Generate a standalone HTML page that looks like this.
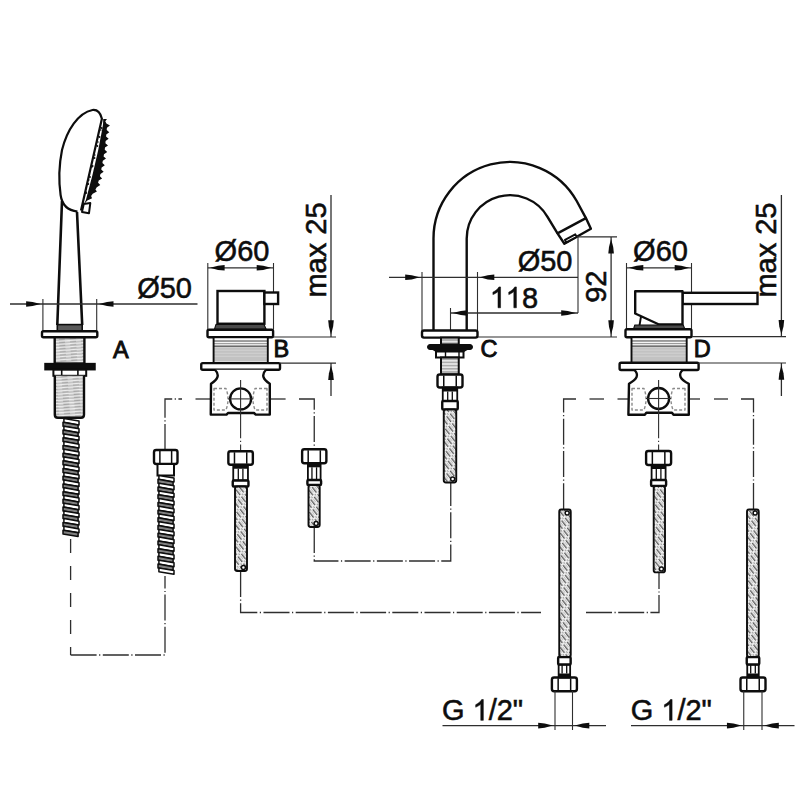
<!DOCTYPE html>
<html><head><meta charset="utf-8"><style>
html,body{margin:0;padding:0;background:#fff;}
svg{display:block;font-family:"Liberation Sans", sans-serif;}
text{fill:#0d0d0d;}
</style></head><body>
<svg width="800" height="800" viewBox="0 0 800 800" font-family="Liberation Sans, sans-serif" fill="#0d0d0d">
<defs>
<pattern id="braid" width="9" height="4.4" patternUnits="userSpaceOnUse" patternTransform="rotate(52)">
<rect width="9" height="4.4" fill="#efefef"/><line x1="0" y1="1.1" x2="7" y2="1.1" stroke="#5e5e5e" stroke-width="1.3"/><line x1="7" y1="3.3" x2="9" y2="3.3" stroke="#8a8a8a" stroke-width="1.0"/><line x1="1" y1="3.2" x2="5" y2="3.2" stroke="#b4b4b4" stroke-width="0.8"/>
</pattern>
<pattern id="thr" width="11" height="3.1" patternUnits="userSpaceOnUse" patternTransform="rotate(-4)">
<rect width="11" height="3.1" fill="#c4c4c4"/><line x1="0" y1="0.6" x2="11" y2="0.6" stroke="#f2f2f2" stroke-width="1.1"/><line x1="2" y1="1.7" x2="8" y2="1.7" stroke="#8c8c8c" stroke-width="0.7"/>
</pattern>
<pattern id="thrh" width="10" height="3.2" patternUnits="userSpaceOnUse">
<rect width="10" height="3.2" fill="#e6e6e6"/><line x1="0" y1="0.8" x2="10" y2="0.8" stroke="#8a8a8a" stroke-width="1.0"/>
</pattern>
</defs>
<rect width="800" height="800" fill="#fff"/>
<polyline points="70.6,539 70.6,655" fill="none" stroke="#2e2e2e" stroke-width="1.3" stroke-dasharray="14 13"/>
<polyline points="70.6,655 165,655 165,576" fill="none" stroke="#2e2e2e" stroke-width="1.3" stroke-dasharray="26 2.5 1.2 2.5"/>
<polyline points="165,450 165,399 182,399" fill="none" stroke="#2e2e2e" stroke-width="1.3" stroke-dasharray="26 2.5 1.2 2.5"/>
<line x1="195.5" y1="399" x2="211" y2="399" stroke="#2e2e2e" stroke-width="1.3" />
<line x1="270" y1="399" x2="285.6" y2="399" stroke="#2e2e2e" stroke-width="1.3" />
<polyline points="299,399 314.25,399 314.25,449" fill="none" stroke="#2e2e2e" stroke-width="1.3" stroke-dasharray="26 2.5 1.2 2.5"/>
<line x1="240.6" y1="380" x2="240.6" y2="451" stroke="#2e2e2e" stroke-width="1.1" stroke-dasharray="26 2.5 1.2 2.5"/>
<polyline points="240.6,571 240.6,612.5 541,612.5" fill="none" stroke="#2e2e2e" stroke-width="1.3" stroke-dasharray="26 2.5 1.2 2.5"/>
<polyline points="586,612.5 659,612.5 659,572" fill="none" stroke="#2e2e2e" stroke-width="1.3" stroke-dasharray="26 2.5 1.2 2.5"/>
<polyline points="314.25,527 314.25,561 450.75,561 450.75,482" fill="none" stroke="#2e2e2e" stroke-width="1.3" stroke-dasharray="26 2.5 1.2 2.5"/>
<polyline points="576,399 563.6,399 563.6,509" fill="none" stroke="#2e2e2e" stroke-width="1.3" stroke-dasharray="26 2.5 1.2 2.5"/>
<line x1="589.5" y1="399" x2="604" y2="399" stroke="#2e2e2e" stroke-width="1.3" />
<line x1="617.5" y1="399" x2="629" y2="399" stroke="#2e2e2e" stroke-width="1.3" />
<line x1="688.5" y1="399" x2="700" y2="399" stroke="#2e2e2e" stroke-width="1.3" />
<line x1="714" y1="399" x2="728" y2="399" stroke="#2e2e2e" stroke-width="1.3" />
<polyline points="741,399 753.5,399 753.5,509" fill="none" stroke="#2e2e2e" stroke-width="1.3" stroke-dasharray="26 2.5 1.2 2.5"/>
<line x1="658.6" y1="380" x2="658.6" y2="451" stroke="#2e2e2e" stroke-width="1.1" stroke-dasharray="26 2.5 1.2 2.5"/>
<path d="M 62 201 L 57.3 325 M 77 212 L 82.2 325" fill="none" stroke="#0d0d0d" stroke-width="2.6" stroke-linejoin="round" />
<path d="M 77.5 211.5 C 68 210.5, 62 205, 60.6 195 C 58.5 180, 59 165, 62 150 C 67 130, 78 113, 92.5 110 C 97 109.5, 100.5 113, 101.9 118.75 L 81 210.5" fill="none" stroke="#0d0d0d" stroke-width="2.2" stroke-linejoin="round" />
<polygon points="106.98,119.00 105.29,121.20 106.40,123.40 109.95,125.60 106.93,127.80 106.71,130.00 109.30,132.20 106.28,134.40 106.06,136.60 108.64,138.80 105.63,141.00 105.41,143.20 107.99,145.40 104.97,147.60 104.76,149.80 107.18,152.00 103.99,154.20 103.59,156.40 106.00,158.60 102.81,160.80 102.41,163.00 104.82,165.20 101.63,167.40 101.23,169.60 103.64,171.80 100.45,174.00 99.93,176.20 102.11,178.40 98.70,180.60 98.08,182.80 100.26,185.00 96.78,187.20 95.43,189.40 96.88,191.60 92.73,193.80 91.13,196.00 92.03,198.20 87.33,200.40 85.43,202.60 85.95,204.80 83.63,204.80 84.67,202.60 85.71,200.40 86.37,198.20 86.95,196.00 87.53,193.80 88.11,191.60 88.68,189.40 89.26,187.20 89.84,185.00 90.42,182.80 91.00,180.60 91.57,178.40 92.15,176.20 92.70,174.00 93.21,171.80 93.71,169.60 94.22,167.40 94.73,165.20 95.24,163.00 95.74,160.80 96.25,158.60 96.76,156.40 97.27,154.20 97.78,152.00 98.28,149.80 98.70,147.60 99.12,145.40 99.53,143.20 99.95,141.00 100.37,138.80 100.79,136.60 101.21,134.40 101.63,132.20 102.05,130.00 102.47,127.80 102.89,125.60 103.07,123.40 103.15,121.20 103.24,119.00" fill="#0d0d0d" stroke="none" stroke-width="1.0" stroke-linejoin="round" />
<circle cx="101.69" cy="128" r="0.9" fill="#0d0d0d"/>
<circle cx="99.54" cy="137" r="0.9" fill="#0d0d0d"/>
<circle cx="97.39" cy="146" r="0.9" fill="#0d0d0d"/>
<circle cx="94.53" cy="158" r="0.9" fill="#0d0d0d"/>
<circle cx="92.62" cy="166" r="0.9" fill="#0d0d0d"/>
<circle cx="89.99" cy="177" r="0.9" fill="#0d0d0d"/>
<circle cx="88.32" cy="184" r="0.9" fill="#0d0d0d"/>
<circle cx="86.17" cy="193" r="0.9" fill="#0d0d0d"/>
<circle cx="100.81" cy="130" r="0.8" fill="#0d0d0d"/>
<circle cx="97.95" cy="142" r="0.8" fill="#0d0d0d"/>
<circle cx="94.84" cy="155" r="0.8" fill="#0d0d0d"/>
<circle cx="91.98" cy="167" r="0.8" fill="#0d0d0d"/>
<circle cx="88.87" cy="180" r="0.8" fill="#0d0d0d"/>
<circle cx="86.01" cy="192" r="0.8" fill="#0d0d0d"/>
<polygon points="82.00,211.90 83.75,204.00 90.30,203.10 89.00,213.20" fill="#fff" stroke="#0d0d0d" stroke-width="2.0" stroke-linejoin="round" />
<rect x="57.30" y="324.60" width="24.90" height="6.40" rx="0" fill="#5a5a5a" stroke="#0d0d0d" stroke-width="1.6" />
<line x1="10" y1="304" x2="197.5" y2="304" stroke="#2e2e2e" stroke-width="1.3" />
<line x1="42.9" y1="299" x2="42.9" y2="331" stroke="#2e2e2e" stroke-width="1.1" />
<line x1="96.7" y1="299" x2="96.7" y2="331" stroke="#2e2e2e" stroke-width="1.1" />
<polygon points="40.60,304.00 32.62,301.90 26.10,301.20 26.10,306.80 32.62,306.10" fill="#0d0d0d" stroke="none" stroke-width="1.0" stroke-linejoin="round" />
<polygon points="99.00,304.00 106.97,301.90 113.50,301.20 113.50,306.80 106.97,306.10" fill="#0d0d0d" stroke="none" stroke-width="1.0" stroke-linejoin="round" />
<g transform="translate(137.17,297.70)"><text x="0.00" y="0" font-size="29" stroke="#0d0d0d" stroke-width="0.55">Ø</text><text x="22.56" y="0" font-size="29" stroke="#0d0d0d" stroke-width="0.55">5</text><text x="38.69" y="0" font-size="29" stroke="#0d0d0d" stroke-width="0.55">0</text></g>
<rect x="42.00" y="331.20" width="55.30" height="6.10" rx="1.5" fill="#fff" stroke="#0d0d0d" stroke-width="2.4" />
<rect x="54.70" y="337.30" width="29.70" height="26.30" rx="0" fill="url(#thr)" stroke="#0d0d0d" stroke-width="2.4" />
<rect x="45.00" y="363.60" width="50.00" height="6.10" rx="0" fill="#0d0d0d" stroke="#0d0d0d" stroke-width="1.5" />
<rect x="53.40" y="369.70" width="32.80" height="6.10" rx="0" fill="#fff" stroke="#0d0d0d" stroke-width="2" />
<line x1="61.7" y1="369.7" x2="61.7" y2="375.8" stroke="#0d0d0d" stroke-width="1.6" />
<line x1="77.9" y1="369.7" x2="77.9" y2="375.8" stroke="#0d0d0d" stroke-width="1.6" />
<path d="M 54.8 375.8 L 54.8 414.8 Q 54.8 417.8 57.8 417.8 L 81.0 417.8 Q 84.0 417.8 84.0 414.8 L 84.0 375.8" fill="url(#thr)" stroke="#0d0d0d" stroke-width="2.4" stroke-linejoin="round" />
<polygon points="63.90,418.50 79.00,421.10 79.00,424.95 63.90,422.35" fill="#ffffff" stroke="#0d0d0d" stroke-width="1.5" stroke-linejoin="round" />
<polygon points="63.00,422.35 78.10,424.95 78.10,428.80 63.00,426.20" fill="#808080" stroke="#0d0d0d" stroke-width="1.5" stroke-linejoin="round" />
<polygon points="63.90,426.20 79.00,428.80 79.00,432.65 63.90,430.05" fill="#ffffff" stroke="#0d0d0d" stroke-width="1.5" stroke-linejoin="round" />
<polygon points="63.00,430.05 78.10,432.65 78.10,436.50 63.00,433.90" fill="#808080" stroke="#0d0d0d" stroke-width="1.5" stroke-linejoin="round" />
<polygon points="63.90,433.90 79.00,436.50 79.00,440.35 63.90,437.75" fill="#ffffff" stroke="#0d0d0d" stroke-width="1.5" stroke-linejoin="round" />
<polygon points="63.00,437.75 78.10,440.35 78.10,444.20 63.00,441.60" fill="#808080" stroke="#0d0d0d" stroke-width="1.5" stroke-linejoin="round" />
<polygon points="63.90,441.60 79.00,444.20 79.00,448.05 63.90,445.45" fill="#ffffff" stroke="#0d0d0d" stroke-width="1.5" stroke-linejoin="round" />
<polygon points="63.00,445.45 78.10,448.05 78.10,451.90 63.00,449.30" fill="#808080" stroke="#0d0d0d" stroke-width="1.5" stroke-linejoin="round" />
<polygon points="63.90,449.30 79.00,451.90 79.00,455.75 63.90,453.15" fill="#ffffff" stroke="#0d0d0d" stroke-width="1.5" stroke-linejoin="round" />
<polygon points="63.00,453.15 78.10,455.75 78.10,459.60 63.00,457.00" fill="#808080" stroke="#0d0d0d" stroke-width="1.5" stroke-linejoin="round" />
<polygon points="63.90,457.00 79.00,459.60 79.00,463.45 63.90,460.85" fill="#ffffff" stroke="#0d0d0d" stroke-width="1.5" stroke-linejoin="round" />
<polygon points="63.00,460.85 78.10,463.45 78.10,467.30 63.00,464.70" fill="#808080" stroke="#0d0d0d" stroke-width="1.5" stroke-linejoin="round" />
<polygon points="63.90,464.70 79.00,467.30 79.00,471.15 63.90,468.55" fill="#ffffff" stroke="#0d0d0d" stroke-width="1.5" stroke-linejoin="round" />
<polygon points="63.00,468.55 78.10,471.15 78.10,475.00 63.00,472.40" fill="#808080" stroke="#0d0d0d" stroke-width="1.5" stroke-linejoin="round" />
<polygon points="63.90,472.40 79.00,475.00 79.00,478.85 63.90,476.25" fill="#ffffff" stroke="#0d0d0d" stroke-width="1.5" stroke-linejoin="round" />
<polygon points="63.00,476.25 78.10,478.85 78.10,482.70 63.00,480.10" fill="#808080" stroke="#0d0d0d" stroke-width="1.5" stroke-linejoin="round" />
<polygon points="63.90,480.10 79.00,482.70 79.00,486.55 63.90,483.95" fill="#ffffff" stroke="#0d0d0d" stroke-width="1.5" stroke-linejoin="round" />
<polygon points="63.00,483.95 78.10,486.55 78.10,490.40 63.00,487.80" fill="#808080" stroke="#0d0d0d" stroke-width="1.5" stroke-linejoin="round" />
<polygon points="63.90,487.80 79.00,490.40 79.00,494.25 63.90,491.65" fill="#ffffff" stroke="#0d0d0d" stroke-width="1.5" stroke-linejoin="round" />
<polygon points="63.00,491.65 78.10,494.25 78.10,498.10 63.00,495.50" fill="#808080" stroke="#0d0d0d" stroke-width="1.5" stroke-linejoin="round" />
<polygon points="63.90,495.50 79.00,498.10 79.00,501.95 63.90,499.35" fill="#ffffff" stroke="#0d0d0d" stroke-width="1.5" stroke-linejoin="round" />
<polygon points="63.00,499.35 78.10,501.95 78.10,505.80 63.00,503.20" fill="#808080" stroke="#0d0d0d" stroke-width="1.5" stroke-linejoin="round" />
<polygon points="63.90,503.20 79.00,505.80 79.00,509.65 63.90,507.05" fill="#ffffff" stroke="#0d0d0d" stroke-width="1.5" stroke-linejoin="round" />
<polygon points="63.00,507.05 78.10,509.65 78.10,513.50 63.00,510.90" fill="#808080" stroke="#0d0d0d" stroke-width="1.5" stroke-linejoin="round" />
<polygon points="63.90,510.90 79.00,513.50 79.00,517.35 63.90,514.75" fill="#ffffff" stroke="#0d0d0d" stroke-width="1.5" stroke-linejoin="round" />
<polygon points="63.00,514.75 78.10,517.35 78.10,521.20 63.00,518.60" fill="#808080" stroke="#0d0d0d" stroke-width="1.5" stroke-linejoin="round" />
<polygon points="63.90,518.60 79.00,521.20 79.00,525.05 63.90,522.45" fill="#ffffff" stroke="#0d0d0d" stroke-width="1.5" stroke-linejoin="round" />
<polygon points="63.00,522.45 78.10,525.05 78.10,528.90 63.00,526.30" fill="#808080" stroke="#0d0d0d" stroke-width="1.5" stroke-linejoin="round" />
<polygon points="63.90,526.30 79.00,528.90 79.00,532.75 63.90,530.15" fill="#ffffff" stroke="#0d0d0d" stroke-width="1.5" stroke-linejoin="round" />
<polygon points="63.00,530.15 78.10,532.75 78.10,536.60 63.00,534.00" fill="#808080" stroke="#0d0d0d" stroke-width="1.5" stroke-linejoin="round" />
<g transform="translate(113.00,358.10)"><text x="0.00" y="0" font-size="23.5" stroke="#0d0d0d" stroke-width="0.9">A</text></g>
<rect x="154.00" y="450.00" width="23.50" height="14.00" rx="2.2" fill="#fff" stroke="#0d0d0d" stroke-width="2.4" />
<line x1="159.875" y1="451" x2="159.875" y2="463" stroke="#0d0d0d" stroke-width="1.5" />
<line x1="171.625" y1="451" x2="171.625" y2="463" stroke="#0d0d0d" stroke-width="1.5" />
<rect x="157.50" y="464.00" width="16.50" height="11.50" rx="0" fill="#fff" stroke="#0d0d0d" stroke-width="2" />
<polygon points="158.90,475.50 174.00,478.10 174.00,481.95 158.90,479.35" fill="#ffffff" stroke="#0d0d0d" stroke-width="1.5" stroke-linejoin="round" />
<polygon points="158.00,479.35 173.10,481.95 173.10,485.80 158.00,483.20" fill="#808080" stroke="#0d0d0d" stroke-width="1.5" stroke-linejoin="round" />
<polygon points="158.90,483.20 174.00,485.80 174.00,489.65 158.90,487.05" fill="#ffffff" stroke="#0d0d0d" stroke-width="1.5" stroke-linejoin="round" />
<polygon points="158.00,487.05 173.10,489.65 173.10,493.50 158.00,490.90" fill="#808080" stroke="#0d0d0d" stroke-width="1.5" stroke-linejoin="round" />
<polygon points="158.90,490.90 174.00,493.50 174.00,497.35 158.90,494.75" fill="#ffffff" stroke="#0d0d0d" stroke-width="1.5" stroke-linejoin="round" />
<polygon points="158.00,494.75 173.10,497.35 173.10,501.20 158.00,498.60" fill="#808080" stroke="#0d0d0d" stroke-width="1.5" stroke-linejoin="round" />
<polygon points="158.90,498.60 174.00,501.20 174.00,505.05 158.90,502.45" fill="#ffffff" stroke="#0d0d0d" stroke-width="1.5" stroke-linejoin="round" />
<polygon points="158.00,502.45 173.10,505.05 173.10,508.90 158.00,506.30" fill="#808080" stroke="#0d0d0d" stroke-width="1.5" stroke-linejoin="round" />
<polygon points="158.90,506.30 174.00,508.90 174.00,512.75 158.90,510.15" fill="#ffffff" stroke="#0d0d0d" stroke-width="1.5" stroke-linejoin="round" />
<polygon points="158.00,510.15 173.10,512.75 173.10,516.60 158.00,514.00" fill="#808080" stroke="#0d0d0d" stroke-width="1.5" stroke-linejoin="round" />
<polygon points="158.90,514.00 174.00,516.60 174.00,520.45 158.90,517.85" fill="#ffffff" stroke="#0d0d0d" stroke-width="1.5" stroke-linejoin="round" />
<polygon points="158.00,517.85 173.10,520.45 173.10,524.30 158.00,521.70" fill="#808080" stroke="#0d0d0d" stroke-width="1.5" stroke-linejoin="round" />
<polygon points="158.90,521.70 174.00,524.30 174.00,528.15 158.90,525.55" fill="#ffffff" stroke="#0d0d0d" stroke-width="1.5" stroke-linejoin="round" />
<polygon points="158.00,525.55 173.10,528.15 173.10,532.00 158.00,529.40" fill="#808080" stroke="#0d0d0d" stroke-width="1.5" stroke-linejoin="round" />
<polygon points="158.90,529.40 174.00,532.00 174.00,535.85 158.90,533.25" fill="#ffffff" stroke="#0d0d0d" stroke-width="1.5" stroke-linejoin="round" />
<polygon points="158.00,533.25 173.10,535.85 173.10,539.70 158.00,537.10" fill="#808080" stroke="#0d0d0d" stroke-width="1.5" stroke-linejoin="round" />
<polygon points="158.90,537.10 174.00,539.70 174.00,543.55 158.90,540.95" fill="#ffffff" stroke="#0d0d0d" stroke-width="1.5" stroke-linejoin="round" />
<polygon points="158.00,540.95 173.10,543.55 173.10,547.40 158.00,544.80" fill="#808080" stroke="#0d0d0d" stroke-width="1.5" stroke-linejoin="round" />
<polygon points="158.90,544.80 174.00,547.40 174.00,551.25 158.90,548.65" fill="#ffffff" stroke="#0d0d0d" stroke-width="1.5" stroke-linejoin="round" />
<polygon points="158.00,548.65 173.10,551.25 173.10,555.10 158.00,552.50" fill="#808080" stroke="#0d0d0d" stroke-width="1.5" stroke-linejoin="round" />
<polygon points="158.90,552.50 174.00,555.10 174.00,558.95 158.90,556.35" fill="#ffffff" stroke="#0d0d0d" stroke-width="1.5" stroke-linejoin="round" />
<polygon points="158.00,556.35 173.10,558.95 173.10,562.80 158.00,560.20" fill="#808080" stroke="#0d0d0d" stroke-width="1.5" stroke-linejoin="round" />
<polygon points="158.90,560.20 174.00,562.80 174.00,566.65 158.90,564.05" fill="#ffffff" stroke="#0d0d0d" stroke-width="1.5" stroke-linejoin="round" />
<polygon points="158.00,564.05 173.10,566.65 173.10,570.50 158.00,567.90" fill="#808080" stroke="#0d0d0d" stroke-width="1.5" stroke-linejoin="round" />
<polygon points="158.90,567.90 174.00,570.50 174.00,574.35 158.90,571.75" fill="#ffffff" stroke="#0d0d0d" stroke-width="1.5" stroke-linejoin="round" />
<g transform="translate(214.60,261.25)"><text x="0.00" y="0" font-size="29" stroke="#0d0d0d" stroke-width="0.55">Ø</text><text x="22.56" y="0" font-size="29" stroke="#0d0d0d" stroke-width="0.55">6</text><text x="38.69" y="0" font-size="29" stroke="#0d0d0d" stroke-width="0.55">0</text></g>
<line x1="207.8" y1="267.8" x2="273.5" y2="267.8" stroke="#2e2e2e" stroke-width="1.3" />
<polygon points="210.10,267.80 218.08,265.70 224.60,265.00 224.60,270.60 218.08,269.90" fill="#0d0d0d" stroke="none" stroke-width="1.0" stroke-linejoin="round" />
<polygon points="271.20,267.80 263.22,265.70 256.70,265.00 256.70,270.60 263.22,269.90" fill="#0d0d0d" stroke="none" stroke-width="1.0" stroke-linejoin="round" />
<line x1="207.8" y1="263" x2="207.8" y2="329.5" stroke="#2e2e2e" stroke-width="1.1" />
<line x1="273.5" y1="263" x2="273.5" y2="329.5" stroke="#2e2e2e" stroke-width="1.1" />
<rect x="217.50" y="291.00" width="46.90" height="32.75" rx="0" fill="#fff" stroke="#0d0d0d" stroke-width="2.4" />
<rect x="264.40" y="292.50" width="13.70" height="11.50" rx="0" fill="#fff" stroke="#0d0d0d" stroke-width="2.4" />
<polygon points="216.00,324.40 264.00,324.40 266.30,329.40 214.40,329.40" fill="#4a4a4a" stroke="#0d0d0d" stroke-width="1.1" stroke-linejoin="round" />
<rect x="207.50" y="329.75" width="65.60" height="7.50" rx="1.5" fill="#fff" stroke="#0d0d0d" stroke-width="2.4" />
<rect x="213.60" y="337.25" width="54.20" height="25.85" rx="0" fill="#c2c2c2" stroke="none" stroke-width="0" />
<line x1="213.6" y1="344.25" x2="267.8" y2="344.25" stroke="#d4d4d4" stroke-width="0.9" />
<line x1="213.6" y1="347.25" x2="267.8" y2="347.25" stroke="#d4d4d4" stroke-width="0.9" />
<line x1="213.6" y1="350.25" x2="267.8" y2="350.25" stroke="#d4d4d4" stroke-width="0.9" />
<line x1="213.6" y1="353.25" x2="267.8" y2="353.25" stroke="#d4d4d4" stroke-width="0.9" />
<line x1="213.6" y1="356.25" x2="267.8" y2="356.25" stroke="#d4d4d4" stroke-width="0.9" />
<rect x="213.60" y="337.25" width="54.20" height="3.20" rx="0" fill="#fafafa" stroke="none" stroke-width="0" />
<line x1="213.6" y1="341.15" x2="267.8" y2="341.15" stroke="#3a3a3a" stroke-width="1.0" />
<rect x="213.60" y="341.65" width="54.20" height="1.80" rx="0" fill="#f4f4f4" stroke="none" stroke-width="0" />
<line x1="213.6" y1="343.85" x2="267.8" y2="343.85" stroke="#777" stroke-width="0.9" />
<rect x="213.60" y="344.25" width="54.20" height="1.40" rx="0" fill="#f4f4f4" stroke="none" stroke-width="0" />
<line x1="213.6" y1="346.15" x2="267.8" y2="346.15" stroke="#3a3a3a" stroke-width="1.0" />
<rect x="213.60" y="361.50" width="54.20" height="1.60" rx="0" fill="#f4f4f4" stroke="none" stroke-width="0" />
<rect x="213.60" y="337.25" width="54.20" height="25.85" rx="0" fill="none" stroke="#0d0d0d" stroke-width="1.9" />
<rect x="201.25" y="363.10" width="78.75" height="6.65" rx="1.5" fill="#fff" stroke="#0d0d0d" stroke-width="2.4" />
<path d="M 215 369.75 Q 222 377 211 383.7 L 210.75 414.6 L 226.5 414.6 L 228 413 L 254 413 L 255.75 414.6 L 269.8 414.6 L 269.8 383.7 Q 259 377 266 369.75" fill="#fff" stroke="#0d0d0d" stroke-width="2.4" stroke-linejoin="round" />
<path d="M 214 388.5 L 226 388.5 Q 230 399 226 410 L 214 410 Z M 267 388.5 L 255 388.5 Q 251 399 255 410 L 267 410 Z" fill="none" stroke="#8a8a8a" stroke-width="1.4" stroke-linejoin="round" stroke-dasharray="3 2"/>
<circle cx="240.6" cy="398.9" r="10.5" fill="none" stroke="#0d0d0d" stroke-width="2.3"/>
<line x1="228" y1="398.9" x2="253" y2="398.9" stroke="#2e2e2e" stroke-width="1.1" />
<line x1="240.6" y1="380" x2="240.6" y2="414" stroke="#2e2e2e" stroke-width="1.1" />
<g transform="translate(273.52,357.35)"><text x="0.00" y="0" font-size="23.5" stroke="#0d0d0d" stroke-width="0.9">B</text></g>
<line x1="331" y1="195" x2="331" y2="337" stroke="#2e2e2e" stroke-width="1.3" />
<polygon points="331.00,334.70 328.90,326.72 328.20,320.20 333.80,320.20 333.10,326.72" fill="#0d0d0d" stroke="none" stroke-width="1.0" stroke-linejoin="round" />
<line x1="331" y1="363.1" x2="331" y2="396" stroke="#2e2e2e" stroke-width="1.3" />
<polygon points="331.00,365.40 328.90,373.38 328.20,379.90 333.80,379.90 333.10,373.38" fill="#0d0d0d" stroke="none" stroke-width="1.0" stroke-linejoin="round" />
<line x1="273" y1="337" x2="336" y2="337" stroke="#2e2e2e" stroke-width="1.2" />
<line x1="280" y1="363.1" x2="336" y2="363.1" stroke="#2e2e2e" stroke-width="1.2" />
<g transform="translate(326.10,297.55) rotate(-90)"><text x="0.00" y="0" font-size="29" stroke="#0d0d0d" stroke-width="0.55">m</text><text x="24.16" y="0" font-size="29" stroke="#0d0d0d" stroke-width="0.55">a</text><text x="40.29" y="0" font-size="29" stroke="#0d0d0d" stroke-width="0.55">x</text><text x="62.84" y="0" font-size="29" stroke="#0d0d0d" stroke-width="0.55">2</text><text x="78.97" y="0" font-size="29" stroke="#0d0d0d" stroke-width="0.55">5</text></g>
<rect x="228.35" y="451.25" width="24.50" height="13.50" rx="2.2" fill="#fff" stroke="#0d0d0d" stroke-width="2.4" />
<line x1="234.475" y1="452.25" x2="234.475" y2="463.75" stroke="#0d0d0d" stroke-width="1.5" />
<line x1="246.725" y1="452.25" x2="246.725" y2="463.75" stroke="#0d0d0d" stroke-width="1.5" />
<rect x="233.25" y="464.75" width="14.70" height="15.75" rx="0" fill="#fff" stroke="#0d0d0d" stroke-width="1.8" />
<rect x="233.25" y="464.75" width="14.70" height="4.00" rx="0" fill="#0d0d0d" stroke="none" stroke-width="0" />
<line x1="238.29999999999998" y1="468.75" x2="238.29999999999998" y2="480.5" stroke="#0d0d0d" stroke-width="1.3" />
<line x1="242.9" y1="468.75" x2="242.9" y2="480.5" stroke="#0d0d0d" stroke-width="1.3" />
<rect x="232.75" y="480.50" width="15.70" height="6.00" rx="1" fill="#fff" stroke="#0d0d0d" stroke-width="2.4" />
<rect x="235.00" y="486.50" width="12.00" height="84.50" rx="2.2" fill="url(#braid)" stroke="#0d0d0d" stroke-width="1.9" />
<circle cx="243.4" cy="567.6" r="2.0" fill="#fff" stroke="#0d0d0d" stroke-width="1.5"/>
<rect x="302.12" y="449.30" width="24.25" height="14.00" rx="2.2" fill="#fff" stroke="#0d0d0d" stroke-width="2.4" />
<line x1="308.1875" y1="450.3" x2="308.1875" y2="462.3" stroke="#0d0d0d" stroke-width="1.5" />
<line x1="320.3125" y1="450.3" x2="320.3125" y2="462.3" stroke="#0d0d0d" stroke-width="1.5" />
<rect x="307.90" y="463.30" width="12.70" height="16.70" rx="0" fill="#fff" stroke="#0d0d0d" stroke-width="1.8" />
<rect x="307.90" y="463.30" width="12.70" height="4.00" rx="0" fill="#0d0d0d" stroke="none" stroke-width="0" />
<line x1="311.95" y1="467.3" x2="311.95" y2="480.0" stroke="#0d0d0d" stroke-width="1.3" />
<line x1="316.55" y1="467.3" x2="316.55" y2="480.0" stroke="#0d0d0d" stroke-width="1.3" />
<rect x="307.40" y="480.00" width="13.70" height="5.00" rx="1" fill="#fff" stroke="#0d0d0d" stroke-width="2.4" />
<rect x="308.50" y="485.00" width="11.20" height="42.00" rx="2.2" fill="url(#braid)" stroke="#0d0d0d" stroke-width="1.9" />
<circle cx="316.09999999999997" cy="523.6" r="2.0" fill="#fff" stroke="#0d0d0d" stroke-width="1.5"/>
<path d="M 433.5 330.5 L 433.5 238.5 A 76.5 76.5 0 0 1 576.7 201 L 585.9 218.1" fill="none" stroke="#0d0d0d" stroke-width="2.4" stroke-linejoin="round" />
<path d="M 466.7 330.5 L 466.7 238.5 A 43.3 43.3 0 0 1 547.5 216.85 L 557.5 233.4" fill="none" stroke="#0d0d0d" stroke-width="2.4" stroke-linejoin="round" />
<polygon points="557.50,233.40 585.90,218.10 590.90,228.75 564.40,243.75" fill="#fff" stroke="#0d0d0d" stroke-width="2.4" stroke-linejoin="round" />
<polygon points="565.00,239.90 575.30,234.40 576.70,236.90 566.40,242.40" fill="#fff" stroke="#0d0d0d" stroke-width="2.0" stroke-linejoin="round" />
<line x1="389" y1="277.3" x2="578" y2="277.3" stroke="#2e2e2e" stroke-width="1.3" />
<line x1="422" y1="272" x2="422" y2="330.5" stroke="#2e2e2e" stroke-width="1.1" />
<line x1="477.5" y1="272" x2="477.5" y2="330.5" stroke="#2e2e2e" stroke-width="1.1" />
<polygon points="419.70,277.30 411.72,275.20 405.20,274.50 405.20,280.10 411.72,279.40" fill="#0d0d0d" stroke="none" stroke-width="1.0" stroke-linejoin="round" />
<polygon points="479.80,277.30 487.78,275.20 494.30,274.50 494.30,280.10 487.78,279.40" fill="#0d0d0d" stroke="none" stroke-width="1.0" stroke-linejoin="round" />
<g transform="translate(517.68,270.80)"><text x="0.00" y="0" font-size="29" stroke="#0d0d0d" stroke-width="0.55">Ø</text><text x="22.56" y="0" font-size="29" stroke="#0d0d0d" stroke-width="0.55">5</text><text x="38.69" y="0" font-size="29" stroke="#0d0d0d" stroke-width="0.55">0</text></g>
<line x1="450.5" y1="313" x2="578" y2="313" stroke="#2e2e2e" stroke-width="1.3" />
<line x1="450.5" y1="308" x2="450.5" y2="330.5" stroke="#2e2e2e" stroke-width="1.1" />
<polygon points="452.80,313.00 460.78,310.90 467.30,310.20 467.30,315.80 460.78,315.10" fill="#0d0d0d" stroke="none" stroke-width="1.0" stroke-linejoin="round" />
<polygon points="575.70,313.00 567.73,310.90 561.20,310.20 561.20,315.80 567.73,315.10" fill="#0d0d0d" stroke="none" stroke-width="1.0" stroke-linejoin="round" />
<line x1="578" y1="237" x2="578" y2="313" stroke="#2e2e2e" stroke-width="1.1" />
<g transform="translate(490.95,307.77)"><path d="M 763 0 L 583 0 L 583 1147 Q 518 1085 413 1023 Q 308 961 224 930 L 224 1104 Q 375 1175 488 1276 Q 601 1377 648 1472 L 763 1472 Z" transform="translate(-1.20,0) scale(0.01416,-0.01416)" fill="#0d0d0d" stroke="#0d0d0d" stroke-width="38.8"/><path d="M 763 0 L 583 0 L 583 1147 Q 518 1085 413 1023 Q 308 961 224 930 L 224 1104 Q 375 1175 488 1276 Q 601 1377 648 1472 L 763 1472 Z" transform="translate(14.63,0) scale(0.01416,-0.01416)" fill="#0d0d0d" stroke="#0d0d0d" stroke-width="38.8"/><text x="31.10" y="0" font-size="29" stroke="#0d0d0d" stroke-width="0.55">8</text></g>
<line x1="577" y1="236.8" x2="617" y2="236.8" stroke="#2e2e2e" stroke-width="1.2" />
<line x1="477.5" y1="337" x2="617" y2="337" stroke="#2e2e2e" stroke-width="1.2" />
<line x1="611.1" y1="237" x2="611.1" y2="337" stroke="#2e2e2e" stroke-width="1.3" />
<polygon points="611.10,239.10 609.00,247.08 608.30,253.60 613.90,253.60 613.20,247.08" fill="#0d0d0d" stroke="none" stroke-width="1.0" stroke-linejoin="round" />
<polygon points="611.10,334.70 609.00,326.72 608.30,320.20 613.90,320.20 613.20,326.72" fill="#0d0d0d" stroke="none" stroke-width="1.0" stroke-linejoin="round" />
<g transform="translate(606.15,302.75) rotate(-90)"><text x="0.00" y="0" font-size="29" stroke="#0d0d0d" stroke-width="0.55">9</text><text x="16.13" y="0" font-size="29" stroke="#0d0d0d" stroke-width="0.55">2</text></g>
<rect x="422.00" y="330.50" width="55.50" height="7.10" rx="2" fill="#fff" stroke="#0d0d0d" stroke-width="2.4" />
<rect x="441.00" y="337.60" width="17.75" height="6.90" rx="0" fill="url(#thrh)" stroke="#0d0d0d" stroke-width="2" />
<rect x="427.50" y="344.50" width="45.00" height="5.00" rx="2.5" fill="#0d0d0d" stroke="#0d0d0d" stroke-width="1" />
<rect x="436.00" y="351.50" width="27.50" height="6.00" rx="0" fill="#fff" stroke="#0d0d0d" stroke-width="2" />
<polygon points="430.00,348.50 470.00,348.50 464.00,352.00 436.00,352.00" fill="#0d0d0d" stroke="none" stroke-width="1.0" stroke-linejoin="round" />
<line x1="445.5" y1="351.5" x2="445.5" y2="357.5" stroke="#0d0d0d" stroke-width="1.4" />
<line x1="459" y1="351.5" x2="459" y2="357.5" stroke="#0d0d0d" stroke-width="1.4" />
<rect x="441.00" y="357.50" width="17.75" height="17.00" rx="0" fill="url(#thrh)" stroke="#0d0d0d" stroke-width="2" />
<rect x="437.50" y="374.50" width="25.00" height="13.00" rx="2.2" fill="#fff" stroke="#0d0d0d" stroke-width="2.4" />
<line x1="443.75" y1="375.5" x2="443.75" y2="386.5" stroke="#0d0d0d" stroke-width="1.5" />
<line x1="456.25" y1="375.5" x2="456.25" y2="386.5" stroke="#0d0d0d" stroke-width="1.5" />
<rect x="442.75" y="387.50" width="14.50" height="13.50" rx="0" fill="#fff" stroke="#0d0d0d" stroke-width="1.8" />
<rect x="442.75" y="387.50" width="14.50" height="4.00" rx="0" fill="#0d0d0d" stroke="none" stroke-width="0" />
<line x1="447.7" y1="391.5" x2="447.7" y2="401.0" stroke="#0d0d0d" stroke-width="1.3" />
<line x1="452.3" y1="391.5" x2="452.3" y2="401.0" stroke="#0d0d0d" stroke-width="1.3" />
<rect x="442.25" y="401.00" width="15.50" height="8.50" rx="1" fill="#fff" stroke="#0d0d0d" stroke-width="2.4" />
<rect x="443.75" y="409.50" width="12.50" height="73.00" rx="2.2" fill="url(#braid)" stroke="#0d0d0d" stroke-width="1.9" />
<circle cx="452.65" cy="479.1" r="2.0" fill="#fff" stroke="#0d0d0d" stroke-width="1.5"/>
<g transform="translate(480.38,357.35)"><text x="0.00" y="0" font-size="23.5" stroke="#0d0d0d" stroke-width="0.9">C</text></g>
<g transform="translate(633.10,261.25)"><text x="0.00" y="0" font-size="29" stroke="#0d0d0d" stroke-width="0.55">Ø</text><text x="22.56" y="0" font-size="29" stroke="#0d0d0d" stroke-width="0.55">6</text><text x="38.69" y="0" font-size="29" stroke="#0d0d0d" stroke-width="0.55">0</text></g>
<line x1="626.5" y1="267.8" x2="691.5" y2="267.8" stroke="#2e2e2e" stroke-width="1.3" />
<polygon points="628.80,267.80 636.77,265.70 643.30,265.00 643.30,270.60 636.77,269.90" fill="#0d0d0d" stroke="none" stroke-width="1.0" stroke-linejoin="round" />
<polygon points="689.20,267.80 681.23,265.70 674.70,265.00 674.70,270.60 681.23,269.90" fill="#0d0d0d" stroke="none" stroke-width="1.0" stroke-linejoin="round" />
<line x1="626.5" y1="263" x2="626.5" y2="329.5" stroke="#2e2e2e" stroke-width="1.1" />
<line x1="691.5" y1="263" x2="691.5" y2="329.5" stroke="#2e2e2e" stroke-width="1.1" />
<rect x="682.50" y="292.80" width="75.00" height="11.20" rx="0" fill="#fff" stroke="#0d0d0d" stroke-width="2.4" />
<path d="M 635.2 291.2 L 682.5 291.2 L 682.5 324.5 L 659 324.5 L 635.2 313.5 Z" fill="#fff" stroke="#0d0d0d" stroke-width="2.4" stroke-linejoin="round" />
<line x1="641" y1="316.5" x2="639.5" y2="325.5" stroke="#0d0d0d" stroke-width="1.9" />
<polygon points="634.80,325.00 683.20,325.00 685.00,329.40 633.40,329.40" fill="#4a4a4a" stroke="#0d0d0d" stroke-width="1.1" stroke-linejoin="round" />
<rect x="625.50" y="329.20" width="66.00" height="8.00" rx="1.5" fill="#fff" stroke="#0d0d0d" stroke-width="2.4" />
<rect x="631.50" y="337.20" width="55.20" height="25.60" rx="0" fill="#c2c2c2" stroke="none" stroke-width="0" />
<line x1="631.5" y1="344.2" x2="686.7" y2="344.2" stroke="#d4d4d4" stroke-width="0.9" />
<line x1="631.5" y1="347.2" x2="686.7" y2="347.2" stroke="#d4d4d4" stroke-width="0.9" />
<line x1="631.5" y1="350.2" x2="686.7" y2="350.2" stroke="#d4d4d4" stroke-width="0.9" />
<line x1="631.5" y1="353.2" x2="686.7" y2="353.2" stroke="#d4d4d4" stroke-width="0.9" />
<line x1="631.5" y1="356.2" x2="686.7" y2="356.2" stroke="#d4d4d4" stroke-width="0.9" />
<rect x="631.50" y="337.20" width="55.20" height="3.20" rx="0" fill="#fafafa" stroke="none" stroke-width="0" />
<line x1="631.5" y1="341.09999999999997" x2="686.7" y2="341.09999999999997" stroke="#3a3a3a" stroke-width="1.0" />
<rect x="631.50" y="341.60" width="55.20" height="1.80" rx="0" fill="#f4f4f4" stroke="none" stroke-width="0" />
<line x1="631.5" y1="343.8" x2="686.7" y2="343.8" stroke="#777" stroke-width="0.9" />
<rect x="631.50" y="344.20" width="55.20" height="1.40" rx="0" fill="#f4f4f4" stroke="none" stroke-width="0" />
<line x1="631.5" y1="346.09999999999997" x2="686.7" y2="346.09999999999997" stroke="#3a3a3a" stroke-width="1.0" />
<rect x="631.50" y="361.20" width="55.20" height="1.60" rx="0" fill="#f4f4f4" stroke="none" stroke-width="0" />
<rect x="631.50" y="337.20" width="55.20" height="25.60" rx="0" fill="none" stroke="#0d0d0d" stroke-width="1.9" />
<rect x="619.60" y="362.80" width="79.00" height="7.20" rx="1.5" fill="#fff" stroke="#0d0d0d" stroke-width="2.4" />
<path d="M 634.5 370 Q 641.5 377 629.0 383.7 L 628.4 414.75 L 644.8 414.75 L 646.3 412.8 L 672 412.8 L 673.5 414.75 L 688.8 414.75 L 688.8 383.7 Q 675.5 377 682.5 370" fill="#fff" stroke="#0d0d0d" stroke-width="2.4" stroke-linejoin="round" />
<path d="M 632 388.5 L 644 388.5 Q 648 399 644 410 L 632 410 Z M 685 388.5 L 673 388.5 Q 669 399 673 410 L 685 410 Z" fill="none" stroke="#8a8a8a" stroke-width="1.4" stroke-linejoin="round" stroke-dasharray="3 2"/>
<circle cx="658.6" cy="398.5" r="10.5" fill="none" stroke="#0d0d0d" stroke-width="2.3"/>
<line x1="646" y1="398.5" x2="671" y2="398.5" stroke="#2e2e2e" stroke-width="1.1" />
<line x1="658.6" y1="380" x2="658.6" y2="414" stroke="#2e2e2e" stroke-width="1.1" />
<g transform="translate(693.70,357.45)"><text x="0.00" y="0" font-size="23.5" stroke="#0d0d0d" stroke-width="0.9">D</text></g>
<line x1="781.4" y1="195" x2="781.4" y2="336.7" stroke="#2e2e2e" stroke-width="1.3" />
<polygon points="781.40,334.40 779.30,326.42 778.60,319.90 784.20,319.90 783.50,326.42" fill="#0d0d0d" stroke="none" stroke-width="1.0" stroke-linejoin="round" />
<line x1="781.4" y1="363" x2="781.4" y2="396" stroke="#2e2e2e" stroke-width="1.3" />
<polygon points="781.40,365.30 779.30,373.28 778.60,379.80 784.20,379.80 783.50,373.28" fill="#0d0d0d" stroke="none" stroke-width="1.0" stroke-linejoin="round" />
<line x1="692" y1="336.7" x2="786" y2="336.7" stroke="#2e2e2e" stroke-width="1.2" />
<line x1="698" y1="363" x2="786" y2="363" stroke="#2e2e2e" stroke-width="1.2" />
<g transform="translate(776.45,297.60) rotate(-90)"><text x="0.00" y="0" font-size="29" stroke="#0d0d0d" stroke-width="0.55">m</text><text x="24.16" y="0" font-size="29" stroke="#0d0d0d" stroke-width="0.55">a</text><text x="40.29" y="0" font-size="29" stroke="#0d0d0d" stroke-width="0.55">x</text><text x="62.84" y="0" font-size="29" stroke="#0d0d0d" stroke-width="0.55">2</text><text x="78.97" y="0" font-size="29" stroke="#0d0d0d" stroke-width="0.55">5</text></g>
<rect x="646.10" y="451.00" width="25.00" height="14.00" rx="2.2" fill="#fff" stroke="#0d0d0d" stroke-width="2.4" />
<line x1="652.35" y1="452" x2="652.35" y2="464" stroke="#0d0d0d" stroke-width="1.5" />
<line x1="664.85" y1="452" x2="664.85" y2="464" stroke="#0d0d0d" stroke-width="1.5" />
<rect x="651.60" y="465.00" width="14.00" height="15.00" rx="0" fill="#fff" stroke="#0d0d0d" stroke-width="1.8" />
<rect x="651.60" y="465.00" width="14.00" height="4.00" rx="0" fill="#0d0d0d" stroke="none" stroke-width="0" />
<line x1="656.3000000000001" y1="469" x2="656.3000000000001" y2="480" stroke="#0d0d0d" stroke-width="1.3" />
<line x1="660.9" y1="469" x2="660.9" y2="480" stroke="#0d0d0d" stroke-width="1.3" />
<rect x="651.10" y="480.00" width="15.00" height="6.00" rx="1" fill="#fff" stroke="#0d0d0d" stroke-width="2.4" />
<rect x="653.70" y="486.00" width="11.30" height="86.40" rx="2.2" fill="url(#braid)" stroke="#0d0d0d" stroke-width="1.9" />
<circle cx="661.4" cy="569.0" r="2.0" fill="#fff" stroke="#0d0d0d" stroke-width="1.5"/>
<rect x="551.90" y="677.50" width="25.00" height="13.75" rx="2.2" fill="#fff" stroke="#0d0d0d" stroke-width="2.4" />
<line x1="558.15" y1="678.5" x2="558.15" y2="690.25" stroke="#0d0d0d" stroke-width="1.5" />
<line x1="570.65" y1="678.5" x2="570.65" y2="690.25" stroke="#0d0d0d" stroke-width="1.5" />
<rect x="558.65" y="664.50" width="11.50" height="13.00" rx="0" fill="#fff" stroke="#0d0d0d" stroke-width="1.8" />
<rect x="558.65" y="673.50" width="11.50" height="4.00" rx="0" fill="#0d0d0d" stroke="none" stroke-width="0" />
<line x1="562.1" y1="664.5" x2="562.1" y2="673.5" stroke="#0d0d0d" stroke-width="1.3" />
<line x1="566.6999999999999" y1="664.5" x2="566.6999999999999" y2="673.5" stroke="#0d0d0d" stroke-width="1.3" />
<rect x="558.15" y="657.00" width="12.50" height="7.50" rx="1" fill="#fff" stroke="#0d0d0d" stroke-width="2.4" />
<rect x="559.25" y="509.50" width="11.50" height="147.50" rx="2.2" fill="url(#braid)" stroke="#0d0d0d" stroke-width="1.9" />
<circle cx="567.15" cy="512.9" r="2.0" fill="#fff" stroke="#0d0d0d" stroke-width="1.5"/>
<rect x="740.50" y="677.50" width="25.00" height="13.75" rx="2.2" fill="#fff" stroke="#0d0d0d" stroke-width="2.4" />
<line x1="746.75" y1="678.5" x2="746.75" y2="690.25" stroke="#0d0d0d" stroke-width="1.5" />
<line x1="759.25" y1="678.5" x2="759.25" y2="690.25" stroke="#0d0d0d" stroke-width="1.5" />
<rect x="747.25" y="664.50" width="11.50" height="13.00" rx="0" fill="#fff" stroke="#0d0d0d" stroke-width="1.8" />
<rect x="747.25" y="673.50" width="11.50" height="4.00" rx="0" fill="#0d0d0d" stroke="none" stroke-width="0" />
<line x1="750.7" y1="664.5" x2="750.7" y2="673.5" stroke="#0d0d0d" stroke-width="1.3" />
<line x1="755.3" y1="664.5" x2="755.3" y2="673.5" stroke="#0d0d0d" stroke-width="1.3" />
<rect x="746.75" y="657.00" width="12.50" height="7.50" rx="1" fill="#fff" stroke="#0d0d0d" stroke-width="2.4" />
<rect x="747.00" y="509.50" width="11.75" height="147.50" rx="2.2" fill="url(#braid)" stroke="#0d0d0d" stroke-width="1.9" />
<circle cx="755.15" cy="512.9" r="2.0" fill="#fff" stroke="#0d0d0d" stroke-width="1.5"/>
<line x1="555" y1="691" x2="555" y2="730" stroke="#2e2e2e" stroke-width="1.1" />
<line x1="572.5" y1="691" x2="572.5" y2="730" stroke="#2e2e2e" stroke-width="1.1" />
<line x1="442.5" y1="725.6" x2="606" y2="725.6" stroke="#2e2e2e" stroke-width="1.3" />
<polygon points="552.70,725.60 544.73,723.50 538.20,722.80 538.20,728.40 544.73,727.70" fill="#0d0d0d" stroke="none" stroke-width="1.0" stroke-linejoin="round" />
<polygon points="574.80,725.60 582.77,723.50 589.30,722.80 589.30,728.40 582.77,727.70" fill="#0d0d0d" stroke="none" stroke-width="1.0" stroke-linejoin="round" />
<g transform="translate(441.90,720.35)"><text x="0.00" y="0" font-size="29" stroke="#0d0d0d" stroke-width="0.55">G</text><path d="M 763 0 L 583 0 L 583 1147 Q 518 1085 413 1023 Q 308 961 224 930 L 224 1104 Q 375 1175 488 1276 Q 601 1377 648 1472 L 763 1472 Z" transform="translate(30.62,0) scale(0.01416,-0.01416)" fill="#0d0d0d" stroke="#0d0d0d" stroke-width="38.8"/><text x="46.74" y="0" font-size="29" stroke="#0d0d0d" stroke-width="0.55">/</text><text x="54.80" y="0" font-size="29" stroke="#0d0d0d" stroke-width="0.55">2</text><text x="70.93" y="0" font-size="29" stroke="#0d0d0d" stroke-width="0.55">&quot;</text></g>
<line x1="743.75" y1="691" x2="743.75" y2="730" stroke="#2e2e2e" stroke-width="1.1" />
<line x1="762" y1="691" x2="762" y2="730" stroke="#2e2e2e" stroke-width="1.1" />
<line x1="631" y1="725.6" x2="794.5" y2="725.6" stroke="#2e2e2e" stroke-width="1.3" />
<polygon points="741.45,725.60 733.48,723.50 726.95,722.80 726.95,728.40 733.48,727.70" fill="#0d0d0d" stroke="none" stroke-width="1.0" stroke-linejoin="round" />
<polygon points="764.30,725.60 772.27,723.50 778.80,722.80 778.80,728.40 772.27,727.70" fill="#0d0d0d" stroke="none" stroke-width="1.0" stroke-linejoin="round" />
<g transform="translate(630.65,720.35)"><text x="0.00" y="0" font-size="29" stroke="#0d0d0d" stroke-width="0.55">G</text><path d="M 763 0 L 583 0 L 583 1147 Q 518 1085 413 1023 Q 308 961 224 930 L 224 1104 Q 375 1175 488 1276 Q 601 1377 648 1472 L 763 1472 Z" transform="translate(30.62,0) scale(0.01416,-0.01416)" fill="#0d0d0d" stroke="#0d0d0d" stroke-width="38.8"/><text x="46.74" y="0" font-size="29" stroke="#0d0d0d" stroke-width="0.55">/</text><text x="54.80" y="0" font-size="29" stroke="#0d0d0d" stroke-width="0.55">2</text><text x="70.93" y="0" font-size="29" stroke="#0d0d0d" stroke-width="0.55">&quot;</text></g>
</svg>
</body></html>
